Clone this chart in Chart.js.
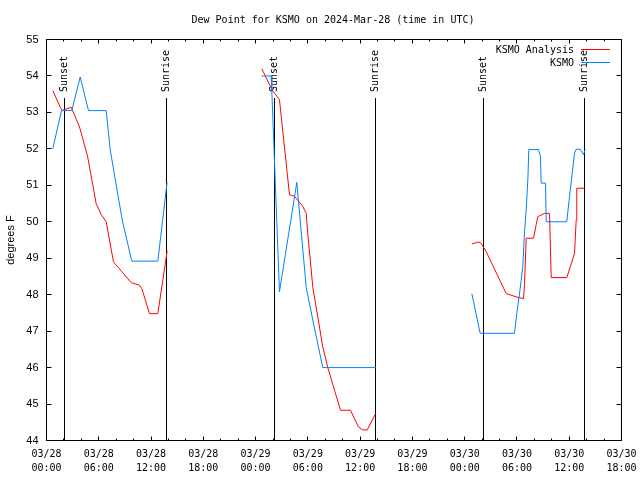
<!DOCTYPE html>
<html>
<head>
<meta charset="utf-8">
<script src="https://cdn.jsdelivr.net/npm/chart.js@4.4.1/dist/chart.umd.min.js"></script>
<style>
  html, body { margin: 0; padding: 0; background: #fff; }
</style>
</head>
<body>
<canvas id="c" width="640" height="480"></canvas>
<script>
// times are hours after 2024-03-28 00:00 UTC, values in degrees F
const analysisHours1 = [0.72, 1.76, 2.84, 3.79, 4.71, 5.70, 6.28, 6.85, 7.69, 9.72, 10.67, 10.94, 11.82, 12.78, 13.85];
const analysisDew1   = [53.6, 53.05, 53.14, 52.6, 51.8, 50.5, 50.2, 50.0, 48.9, 48.33, 48.26, 48.17, 47.48, 47.48, 49.2];
const analysisHours2 = [24.71, 25.86, 26.74, 27.89, 28.47, 29.42, 29.81, 29.99, 30.57, 31.14, 31.71, 32.29, 33.06, 33.75, 34.89, 35.81, 36.31, 36.81, 37.76];
const analysisDew2   = [54.2, 53.63, 53.35, 50.74, 50.7, 50.42, 50.23, 49.68, 48.2, 47.39, 46.57, 46.0, 45.38, 44.83, 44.83, 44.37, 44.29, 44.29, 44.73];
const analysisHours3 = [48.82, 49.51, 49.82, 50.47, 52.77, 53.91, 54.75, 54.87, 55.06, 55.90, 56.39, 57.16, 57.74, 57.93, 59.72, 60.61, 60.80, 60.87, 61.75];
const analysisDew3   = [49.39, 49.44, 49.43, 49.18, 48.03, 47.94, 47.89, 48.3, 49.55, 49.55, 50.14, 50.23, 50.23, 48.47, 48.47, 49.13, 50.05, 50.92, 50.92];

const obsHours1 = [0.72, 1.72, 2.90, 3.87, 4.82, 6.85, 7.31, 8.69, 9.79, 12.78, 13.84];
const obsDew1   = [52.0, 53.05, 53.05, 53.97, 53.05, 53.05, 51.98, 50.05, 48.92, 48.92, 51.08];
const obsHours2 = [24.71, 25.79, 25.86, 26.74, 28.73, 29.81, 30.57, 31.71, 37.84];
const obsDew2   = [54.0, 54.0, 53.6, 48.08, 51.08, 48.2, 47.3, 46.0, 46.0];
const obsHours3 = [48.82, 49.78, 53.72, 53.98, 54.37, 54.67, 54.87, 55.06, 55.25, 55.36, 56.47, 56.70, 56.78, 57.28, 57.36, 59.72, 60.03, 60.61, 60.80, 61.26, 61.64, 61.83];
const obsDew3   = [48.03, 46.94, 46.94, 47.48, 48.17, 48.77, 49.73, 50.33, 51.15, 51.98, 51.98, 51.79, 51.06, 51.06, 50.0, 50.0, 50.69, 51.88, 51.99, 51.99, 51.84, 51.98];

const sunsetHours  = [2.07, 26.17, 50.16];
const sunriseHours = [13.77, 37.76, 61.75];

const xMin = 0, xMax = 66;
const yMin = 44, yMax = 55;
const titleText = 'Dew Point for KSMO on 2024-Mar-28 (time in UTC)';

const MONO = '"DejaVu Sans Mono", monospace';
const SANS = '"Liberation Sans", Arial, sans-serif';

// glue the daily pieces together with a null point so the line breaks
function joinSegments(segs) {
  const pts = [];
  segs.forEach(([hours, vals], i) => {
    if (i > 0) pts.push({ x: (pts[pts.length - 1].x + hours[0]) / 2, y: null });
    hours.forEach((h, j) => pts.push({ x: h, y: vals[j] }));
  });
  return pts;
}

function tickLabel(v) {
  const day = 28 + Math.floor(v / 24);
  const hh = String(v % 24).padStart(2, '0');
  return ['03/' + day, hh + ':00'];
}

const crisp = p => Math.round(p - 0.5) + 0.5;

const gnuFrame = {
  id: 'gnuFrame',
  beforeDatasetsDraw(chart) {
    const { ctx, chartArea: a, scales: { x } } = chart;
    ctx.save();
    ctx.strokeStyle = '#000';
    ctx.fillStyle = '#000';
    ctx.lineWidth = 1;
    ctx.font = '10px ' + MONO;
    const mark = (h, txt) => {
      const px = crisp(x.getPixelForValue(h));
      ctx.beginPath();
      ctx.moveTo(px, 98);
      ctx.lineTo(px, a.bottom);
      ctx.stroke();
      ctx.save();
      ctx.translate(px, 92);
      ctx.rotate(-Math.PI / 2);
      ctx.textAlign = 'left';
      ctx.textBaseline = 'middle';
      ctx.fillText(txt, 0, 0);
      ctx.restore();
    };
    sunsetHours.forEach(h => mark(h, 'Sunset'));
    sunriseHours.forEach(h => mark(h, 'Sunrise'));
    ctx.restore();
  },
  afterDraw(chart) {
    const { ctx, chartArea: a, scales: { x, y } } = chart;
    const L = Math.floor(a.left) + 0.5, R = Math.floor(a.right) + 0.5;
    const T = Math.floor(a.top) + 0.5, B = Math.floor(a.bottom) + 0.5;
    ctx.save();
    ctx.strokeStyle = '#000';
    ctx.lineWidth = 1;
    ctx.strokeRect(L, T, R - L, B - T);

    ctx.beginPath();
    for (let h = xMin; h <= xMax; h += 2) {
      const px = crisp(x.getPixelForValue(h));
      const len = h % 6 === 0 ? 4 : 2;
      ctx.moveTo(px, B); ctx.lineTo(px, B - len);
      ctx.moveTo(px, T); ctx.lineTo(px, T + len);
    }
    for (let v = yMin; v <= yMax; v++) {
      const py = crisp(y.getPixelForValue(v));
      ctx.moveTo(L, py); ctx.lineTo(L + 5, py);
      ctx.moveTo(R, py); ctx.lineTo(R - 5, py);
    }
    ctx.stroke();

    // title
    ctx.fillStyle = '#000';
    ctx.font = '10px ' + MONO;
    ctx.textAlign = 'center';
    ctx.textBaseline = 'middle';
    ctx.fillText(titleText, (a.left + a.right) / 2 - 1, 20);

    // key, text right aligned with the sample line after it
    ctx.textAlign = 'right';
    chart.data.datasets.forEach((ds, i) => {
      const yy = 49.5 + i * 13;
      ctx.fillText(ds.label, 574, yy + 1);
      ctx.strokeStyle = ds.borderColor;
      ctx.beginPath();
      ctx.moveTo(581, yy);
      ctx.lineTo(610, yy);
      ctx.stroke();
    });
    ctx.restore();
  }
};

new Chart(document.getElementById('c'), {
  type: 'line',
  data: {
    datasets: [
      {
        label: 'KSMO Analysis',
        data: joinSegments([[analysisHours1, analysisDew1], [analysisHours2, analysisDew2], [analysisHours3, analysisDew3]]),
        borderColor: '#ff0000',
        borderWidth: 1,
        pointRadius: 0,
        tension: 0,
        spanGaps: false,
        order: 1
      },
      {
        label: 'KSMO',
        data: joinSegments([[obsHours1, obsDew1], [obsHours2, obsDew2], [obsHours3, obsDew3]]),
        borderColor: '#0080ff',
        borderWidth: 1,
        pointRadius: 0,
        tension: 0,
        spanGaps: false,
        order: 0
      }
    ]
  },
  options: {
    responsive: false,
    animation: false,
    devicePixelRatio: 1,
    layout: { padding: { top: 39.5, right: 18.5, bottom: 0, left: 0 } },
    plugins: {
      legend: { display: false },
      title: { display: false },
      tooltip: { enabled: false }
    },
    scales: {
      x: {
        type: 'linear',
        min: xMin,
        max: xMax,
        afterFit(s) {
          s.height = 39.5;
          s.paddingLeft = 0;
          s.paddingRight = 0;
        },
        grid: { display: false, drawTicks: false },
        border: { display: false },
        ticks: {
          stepSize: 6,
          autoSkip: false,
          maxRotation: 0,
          padding: 7,
          color: '#000',
          font: { family: MONO, size: 10, lineHeight: 1.4 },
          callback: v => tickLabel(v)
        }
      },
      y: {
        min: yMin,
        max: yMax,
        afterFit(s) {
          s.width = 46.5;
          s.paddingTop = 0;
          s.paddingBottom = 0;
        },
        grid: { display: false, drawTicks: false },
        border: { display: false },
        ticks: {
          stepSize: 1,
          padding: 8,
          color: '#000',
          font: { family: SANS, size: 11 }
        },
        title: {
          display: true,
          text: 'degrees F',
          color: '#000',
          font: { family: SANS, size: 11 },
          padding: { top: 4, bottom: 0 }
        }
      }
    }
  },
  plugins: [gnuFrame]
});
</script>
</body>
</html>
